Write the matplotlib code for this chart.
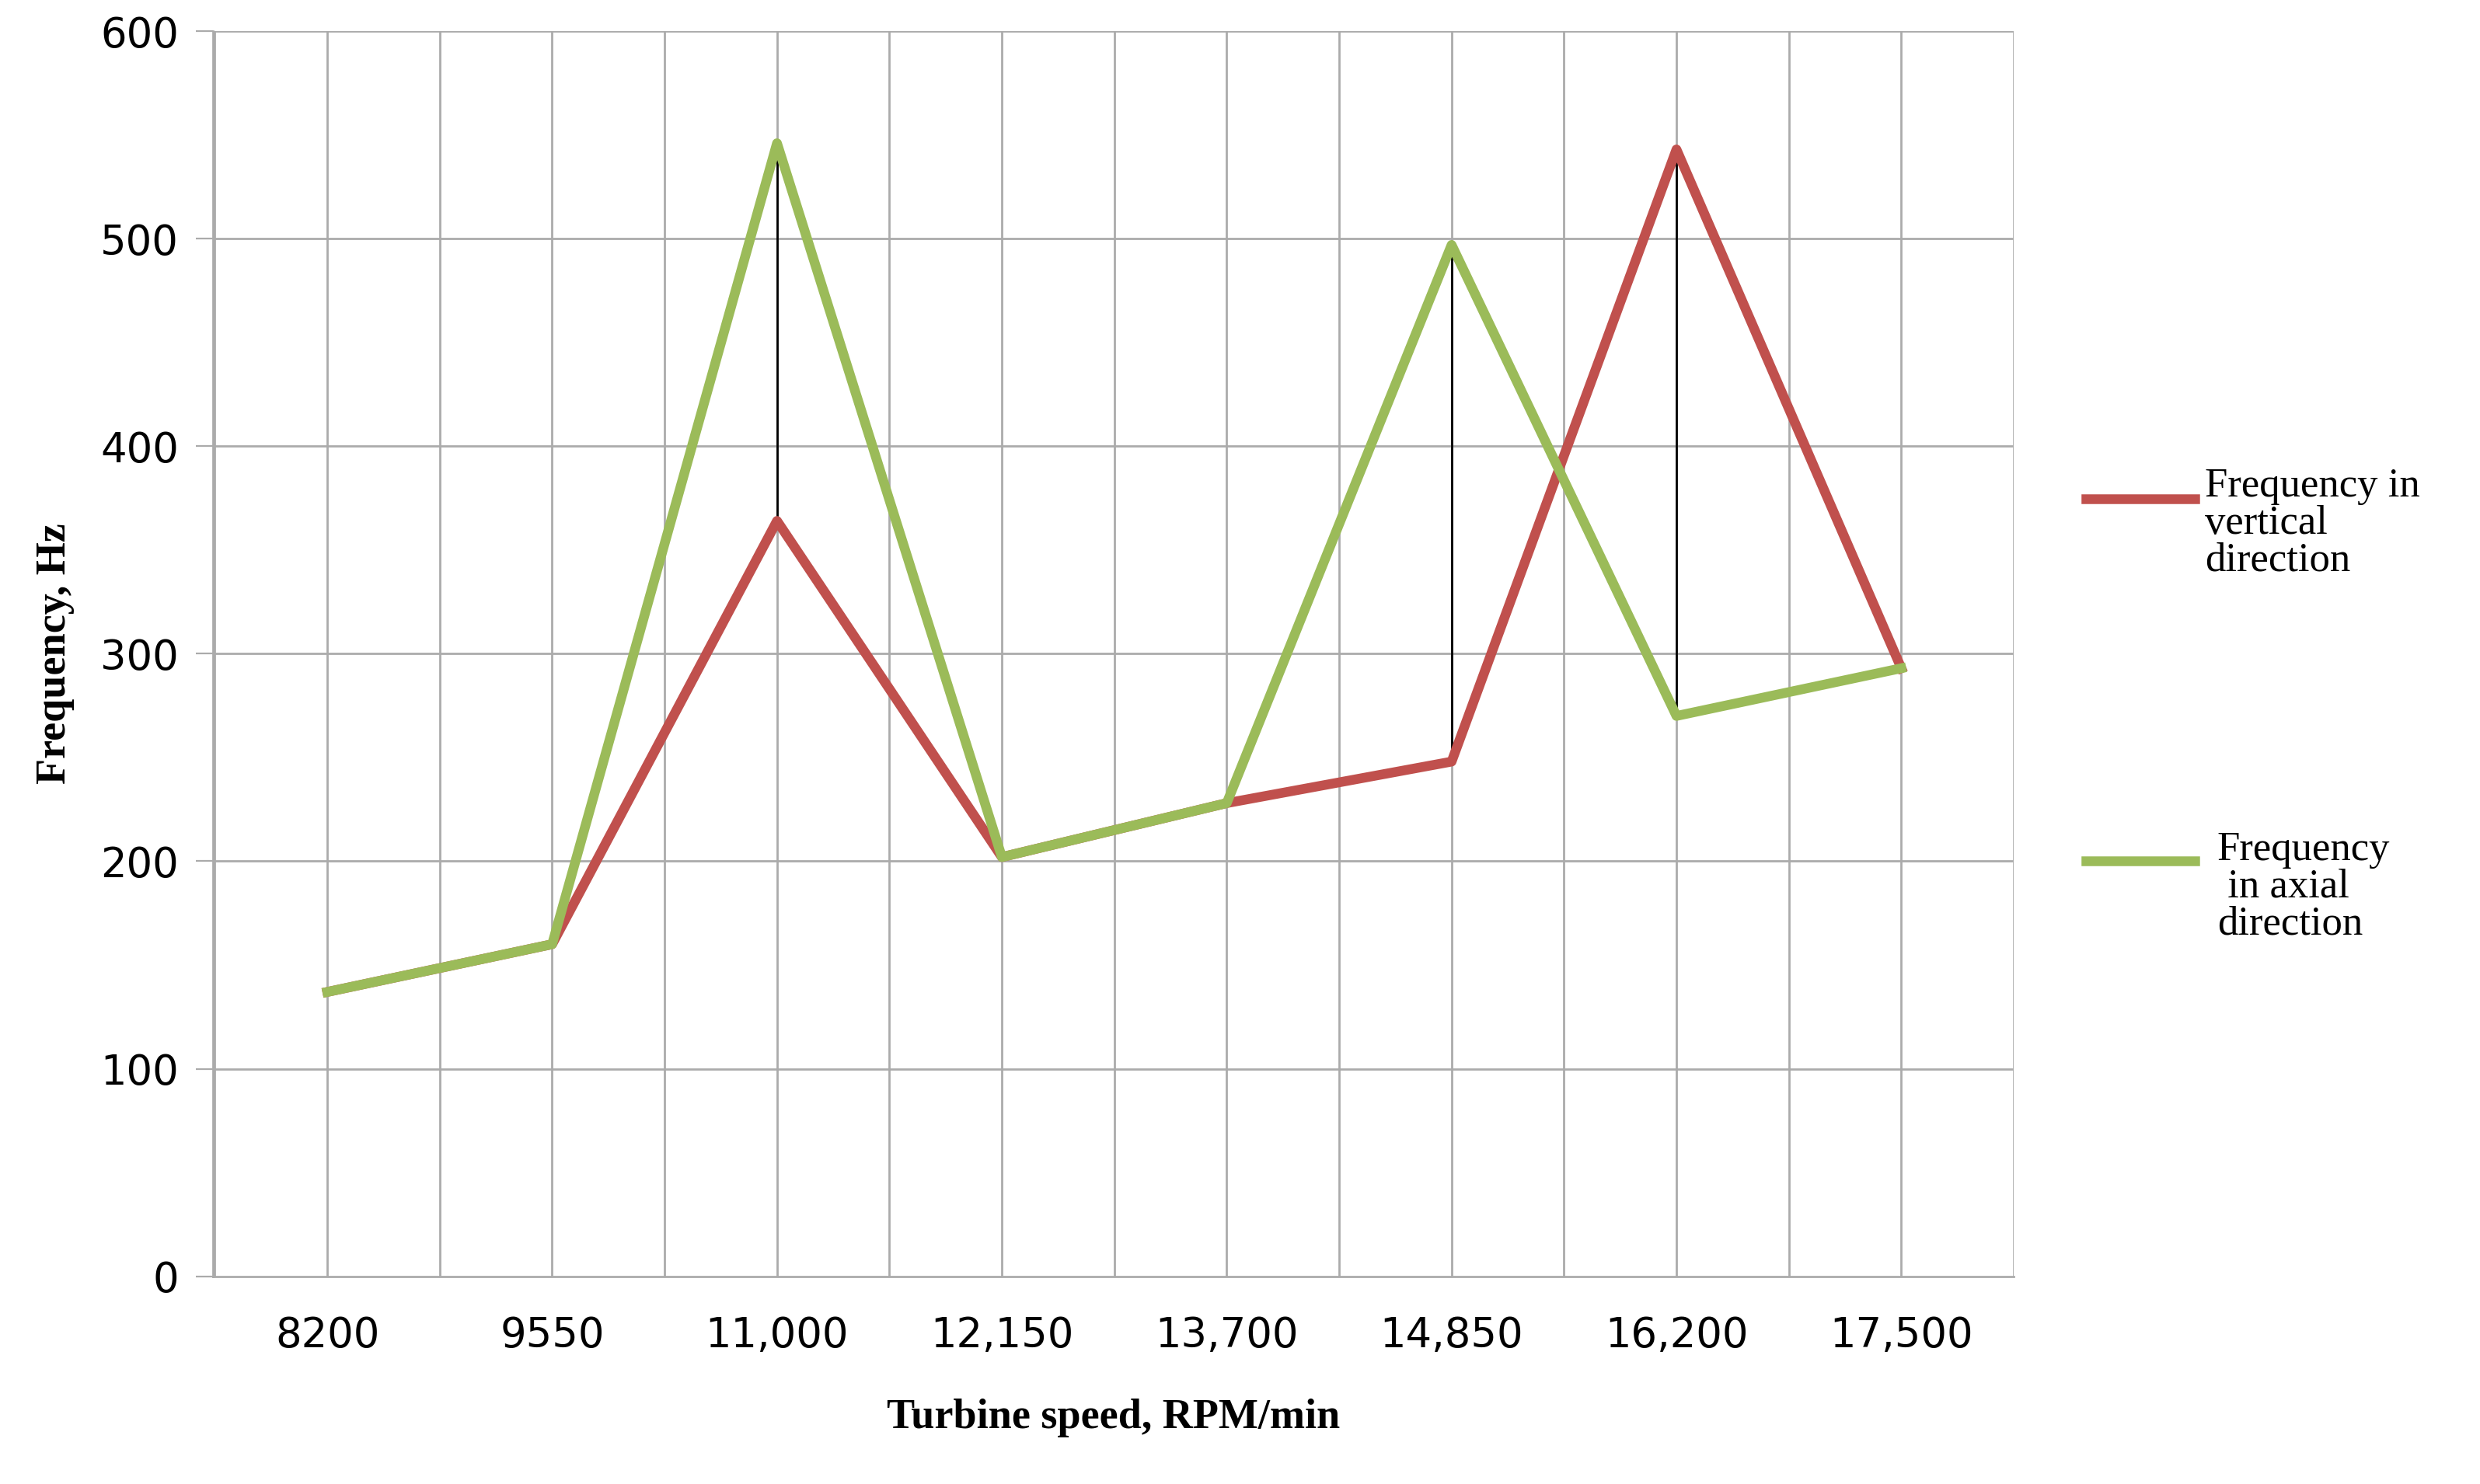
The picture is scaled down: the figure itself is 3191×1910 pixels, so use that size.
import numpy as np
import matplotlib.pyplot as plt
from matplotlib.lines import Line2D

speeds = ['8200', '9550', '11,000', '12,150', '13,700', '14,850', '16,200', '17,500']
vertical = [137, 160, 364, 202, 228, 248, 543, 293]
axial = [137, 160, 546, 202, 228, 497, 270, 293]

red = '#c0504d'
green = '#9bbb59'
grid = '#ababab'

fig = plt.figure(figsize=(15.955, 9.55), dpi=200)
ax = fig.add_axes([0.086, 0.14, 0.726, 0.839])

x = np.arange(len(speeds))
ax.set_xlim(-0.507, 7.5)
ax.set_ylim(0, 600)

for gx in np.arange(-0.5, 7.51, 0.5):
    ax.axvline(gx, color=grid, lw=1.0, zorder=0)
for gy in range(100, 601, 100):
    ax.axhline(gy, color=grid, lw=1.0, zorder=0)

# drop lines between the two series
for i in [2, 5, 6]:
    ax.plot([x[i], x[i]], [vertical[i], axial[i]], color='black', lw=1.0, zorder=1)

ax.plot(x, vertical, color=red, lw=4.5, zorder=2)
ax.plot(x, axial, color=green, lw=4.5, zorder=3)

ax.set_xticks(x)
ax.set_xticklabels(speeds, fontsize=19)
ax.tick_params(axis='x', length=0, pad=18)
ax.set_yticks(range(0, 601, 100))
ax.tick_params(axis='y', labelsize=19, length=8, color=grid, pad=8)
for s in ['top', 'right']:
    ax.spines[s].set_visible(False)
for s in ['left', 'bottom']:
    ax.spines[s].set_color(grid)
    ax.spines[s].set_linewidth(1.0)

ax.set_xlabel('Turbine speed, RPM/min', family='Liberation Serif', fontweight='bold',
              fontsize=19.5, labelpad=20)
ax.set_ylabel('Frequency, Hz', family='Liberation Serif', fontweight='bold',
              fontsize=19.5, labelpad=12)

# legend drawn by hand on the right
fig.add_artist(Line2D([0.841, 0.885], [0.664, 0.664], color=red, lw=4.5))
fig.text(0.889, 0.685, 'Frequency in\nvertical\ndirection', family='Liberation Serif',
         fontsize=19, va='top', linespacing=1.0)
fig.add_artist(Line2D([0.841, 0.885], [0.420, 0.420], color=green, lw=4.5))
fig.text(0.894, 0.440, 'Frequency\n in axial\ndirection', family='Liberation Serif',
         fontsize=19, va='top', linespacing=1.0)

fig.savefig('out.png', dpi=200)
